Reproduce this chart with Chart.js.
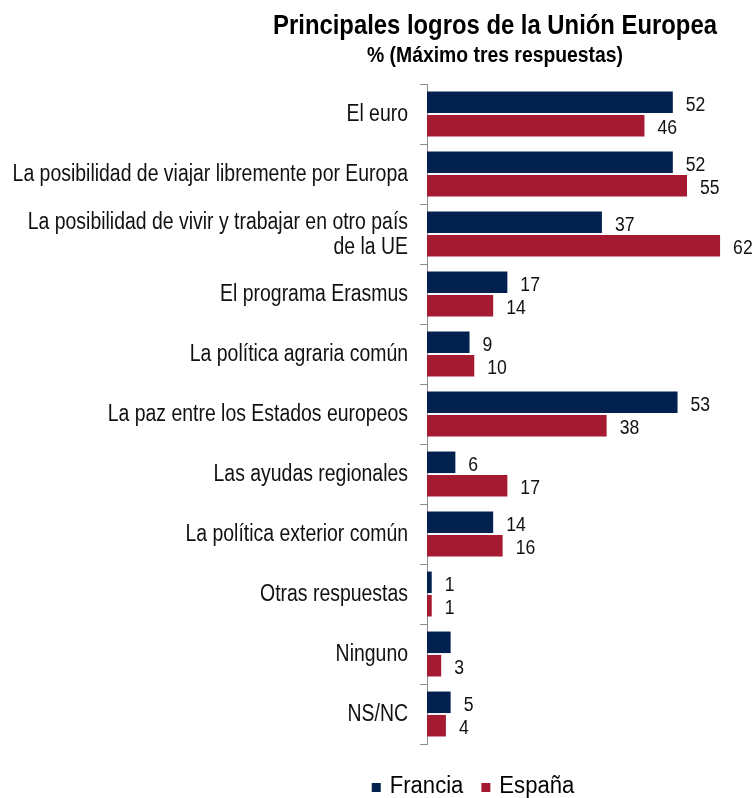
<!DOCTYPE html>
<html>
<head>
<meta charset="utf-8">
<script src="https://cdn.jsdelivr.net/npm/chart.js@4.4.1/dist/chart.umd.min.js"></script>
<style>
html,body{margin:0;padding:0;background:#fff;}
</style>
</head>
<body>
<canvas id="c" width="754" height="798" style="width:754px;height:798px;display:block"></canvas>
<script>
const categories = [
  "El euro",
  "La posibilidad de viajar libremente por Europa",
  ["La posibilidad de vivir y trabajar en otro país", "de la UE"],
  "El programa Erasmus",
  "La política agraria común",
  "La paz entre los Estados europeos",
  "Las ayudas regionales",
  "La política exterior común",
  "Otras respuestas",
  "Ninguno",
  "NS/NC"
];
const francia = [52, 52, 37, 17, 9, 53, 6, 14, 1, 5, 5];
const espana  = [46, 55, 62, 14, 10, 38, 17, 16, 1, 3, 4];
const franciaLabels = ["52","52","37","17","9","53","6","14","1","","5"];
const espanaLabels  = ["46","55","62","14","10","38","17","16","1","3","4"];
const titleText = "Principales logros de la Unión Europea";
const subtitleText = "% (Máximo tres respuestas)";

const FONT = "'Liberation Sans',Arial,sans-serif";

// draw text horizontally condensed (emulates a narrow face)
function narrowText(ctx, text, x, y, sx) {
  ctx.save();
  ctx.translate(x, y);
  ctx.scale(sx, 1);
  ctx.fillText(text, 0, 0);
  ctx.restore();
}

const labelPlugin = {
  id: 'valueLabels',
  afterDatasetsDraw(chart) {
    const ctx = chart.ctx;
    ctx.save();
    ctx.font = "20px " + FONT;
    ctx.fillStyle = "#111";
    ctx.textBaseline = "alphabetic";
    ctx.textAlign = "left";
    const lists = [franciaLabels, espanaLabels];
    chart.data.datasets.forEach((ds, di) => {
      const meta = chart.getDatasetMeta(di);
      meta.data.forEach((bar, i) => {
        const t = lists[di][i];
        if (!t) return;
        narrowText(ctx, t, bar.x + 13, bar.y + 8.5, 0.88);
      });
    });
    // category labels
    const ys = chart.scales.y;
    ctx.font = "23px " + FONT;
    ctx.textAlign = "right";
    chart.data.labels.forEach((lab, i) => {
      const yc = ys.getPixelForTick(i);
      const lines = Array.isArray(lab) ? lab : [lab];
      const lh = 25;
      const start = yc - (lines.length - 1) * lh / 2 + 7;
      lines.forEach((ln, k) => narrowText(ctx, ln, ys.right - 19, start + k * lh, 0.845));
    });
    ctx.restore();
  }
};

const deco = {
  id: 'deco',
  afterDraw(chart) {
    const ctx = chart.ctx;
    ctx.save();
    ctx.fillStyle = "#000";
    ctx.textAlign = "center";
    ctx.textBaseline = "alphabetic";
    ctx.font = "bold 27px " + FONT;
    narrowText(ctx, titleText, 495, 34, 0.883);
    ctx.font = "bold 22px " + FONT;
    narrowText(ctx, subtitleText, 495, 62, 0.88);
    // legend
    const sx = 0.96;
    ctx.font = "23px " + FONT;
    const items = chart.data.datasets.map(d => ({text: d.label, color: d.backgroundColor}));
    const box = 9, gapBox = 9, gapItem = 18;
    let total = 0;
    items.forEach((it, i) => { total += box + gapBox + ctx.measureText(it.text).width * sx + (i ? gapItem : 0); });
    let x = 473 - total / 2;
    const y = 793;
    ctx.textAlign = "left";
    items.forEach((it, i) => {
      if (i) x += gapItem;
      ctx.fillStyle = it.color;
      ctx.fillRect(x, y - 10, box, box);
      x += box + gapBox;
      ctx.fillStyle = "#000";
      narrowText(ctx, it.text, x, y, sx);
      x += ctx.measureText(it.text).width * sx;
    });
    ctx.restore();
  }
};

new Chart(document.getElementById('c'), {
  type: 'bar',
  data: {
    labels: categories,
    datasets: [
      { label: "Francia", data: francia, backgroundColor: "#02214f", borderWidth: 0, barPercentage: 0.92, categoryPercentage: 0.78 },
      { label: "España", data: espana, backgroundColor: "#a51a30", borderWidth: 0, barPercentage: 0.92, categoryPercentage: 0.78 }
    ]
  },
  options: {
    indexAxis: 'y',
    responsive: false,
    animation: false,
    devicePixelRatio: 1,
    layout: { padding: { top: 84, bottom: 54, left: 10, right: 15 } },
    plugins: { legend: { display: false }, title: { display: false }, tooltip: { enabled: false } },
    scales: {
      x: { display: false, min: 0, max: 66 },
      y: {
        afterFit(scale) { scale.width = 417; },
        grid: { drawOnChartArea: false, drawTicks: true, tickLength: 7, color: "#8c8c8c", offset: true },
        border: { display: true, color: "#8c8c8c", width: 1 },
        ticks: { display: false }
      }
    }
  },
  plugins: [labelPlugin, deco]
});
</script>
</body>
</html>
